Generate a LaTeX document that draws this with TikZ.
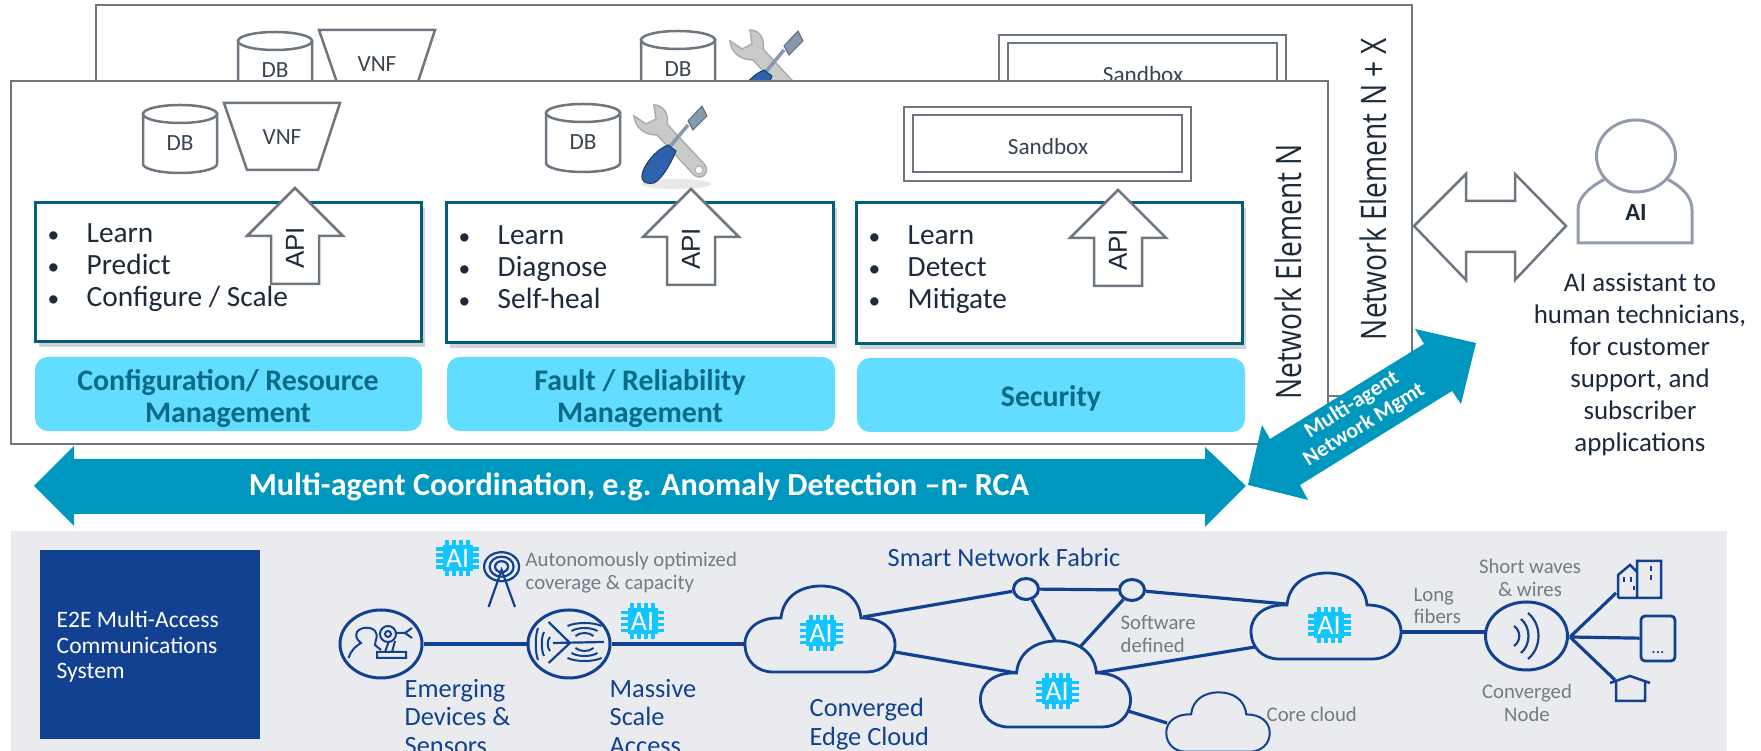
\documentclass[tikz,border=0pt]{standalone}
\usepackage{fontspec}
\setmainfont{Carlito}
\newfontfamily\widefont{Open Sans}
\newfontfamily\apifont{Liberation Sans}
\usetikzlibrary{shapes.geometric, shadows, positioning}
\definecolor{outline}{HTML}{6E7680}
\definecolor{tealedge}{HTML}{005F7A}
\definecolor{barfill}{HTML}{62DDFF}
\definecolor{bartext}{HTML}{0A6A88}
\definecolor{bigarrow}{HTML}{0097BE}
\definecolor{nokiablue}{HTML}{124191}
\definecolor{bandgray}{HTML}{E9EBEF}
\definecolor{chipcyan}{HTML}{12C4FF}
\definecolor{softgray}{HTML}{737B85}
\definecolor{personblue}{HTML}{939CAD}
\definecolor{darktext}{HTML}{1C2A3A}
\definecolor{labeltext}{HTML}{3A4450}
\definecolor{toolgray}{HTML}{C8CBC8}
\definecolor{toolblue}{HTML}{2F62AC}
\definecolor{bladeblue}{HTML}{8499AE}
\newcommand{\bul}[1]{\hspace*{0.3mm}\makebox[3.9mm][l]{\scalebox{0.8}{•}}#1}
\begin{document}
\begin{tikzpicture}[
      x=0.1mm, y=-0.1mm,
      elementbox/.style={draw=outline, fill=white, line width=0.28mm},
      grayshape/.style={draw=outline, fill=white, line width=0.25mm},
      smalltext/.style={font=\fontsize{6.6}{8}\selectfont, text=labeltext},
      taskbox/.style={draw=tealedge, fill=white, line width=0.3mm, drop shadow={shadow xshift=0.4mm, shadow yshift=-0.5mm, opacity=0.35}},
      tasklist/.style={font=\fontsize{8.35}{9.1}\selectfont, text=darktext, align=left, inner sep=0pt, anchor=west},
      barbox/.style={fill=barfill, rounded corners=1.3mm},
      bartitle/.style={font=\fontsize{8.5}{9.1}\selectfont\bfseries, text=bartext, align=center, inner sep=0pt},
      elementname/.style={font=\widefont\fontsize{10}{11}\selectfont, text=darktext, rotate=90, inner sep=0pt},
      link/.style={draw=nokiablue, line width=0.32mm},
      blue label/.style={font=\fontsize{7.5}{8.1}\selectfont, text=nokiablue, align=left, inner sep=0pt, anchor=west},
      gray label/.style={font=\fontsize{5.9}{6.5}\selectfont, text=softgray, align=left, inner sep=0pt, anchor=west},
      circlenode/.style={ellipse, draw=nokiablue, line width=0.3mm, minimum width=8.2mm, minimum height=6.8mm, inner sep=0pt},
      hubnode/.style={ellipse, draw=nokiablue, fill=bandgray, line width=0.3mm, minimum width=2.5mm, minimum height=2.1mm, inner sep=0pt},
      dbcan/.pic={
         \path[grayshape] (-37,-25) -- (-37,25) .. controls (-37,30) and (-20,34) .. (0,34) .. controls (20,34) and (37,30) .. (37,25) -- (37,-25) -- cycle;
         \path[grayshape] (0,-25) ellipse (37 and 9);
         \node[smalltext] (-dblabel) at (0,4) {DB};
      },
      vnfbox/.pic={
         \path[grayshape] (-58,-34) -- (58,-34) -- (36,33) -- (-35,33) -- cycle;
         \node[smalltext] (-vnflabel) at (0,0) {VNF};
      },
      sandboxframe/.pic={
         \path[grayshape] (-144,-37) rectangle (143,37);
         \path[grayshape] (-135,-29) rectangle (134,28);
         \node[smalltext] (-sandlabel) at (0,3) {Sandbox};
      },
      toolset/.pic={
         \fill[gray!18] (6,41) ellipse (35 and 5);
         \filldraw[fill=toolgray, draw=gray!65, line width=0.15mm] (-16,-38) .. controls (-6,-38) and (-1,-28) .. (-3,-19) -- (35,22) .. controls (40,30) and (31,38) .. (24,32) -- (-13,-8) .. controls (-25,-8) and (-35,-15) .. (-36,-27) -- (-24,-19) -- (-14,-24) -- cycle;
         \filldraw[fill=white, draw=gray!65, line width=0.1mm] (29,27) ellipse (4 and 4);
         \draw[bladeblue, line width=0.35mm] (18,-18) -- (-2,6);
         \filldraw[fill=bladeblue, draw=bladeblue!70!black, line width=0.1mm] (32,-37) -- (37,-27) -- (23,-13) -- (18,-22) -- cycle;
         \filldraw[fill=toolblue, draw=toolblue!60!black, line width=0.1mm] (-2,2) -- (6,8) .. controls (0,22) and (-8,36) .. (-16,40) .. controls (-27,42) and (-30,36) .. (-27,28) .. controls (-22,16) and (-12,6) .. (-2,2) -- cycle;
      },
      apiarrow/.pic={
         \path[grayshape] (0,0) -- (48,48) -- (24,48) -- (24,96) -- (-24,96) -- (-24,48) -- (-48,48) -- cycle;
         \node[font=\apifont\fontsize{7.4}{8}\selectfont, text=darktext, rotate=90, inner sep=0pt] (-apilabel) at (0,60) {API};
      },
      aichip/.pic={
         \fill[chipcyan] (-15,-13) rectangle (15,13);
         \foreach \p in {-10.5,-3.5,3.5,10.5} {
            \draw[chipcyan, line width=0.4mm] (\p,-18) -- (\p,18);
         }
         \foreach \p in {-9,-3,3,9} {
            \draw[chipcyan, line width=0.32mm] (-21.5,\p) -- (21.5,\p);
         }
         \node[font=\fontsize{8}{9}\selectfont, text=white, inner sep=0pt] (-ailabel) at (0,0) {AI};
      },
      netcloud/.pic={
         \path[draw=nokiablue, fill=bandgray] (-39,-11) .. controls (-37,-32) and (-20,-43) .. (1,-43) .. controls (22,-43) and (39,-32) .. (41,-11) .. controls (62,-11) and (75,0) .. (75,16) .. controls (75,32) and (62,43) .. (47,43) -- (-47,43) .. controls (-63,43) and (-75,32) .. (-75,15) .. controls (-75,-1) and (-60,-12) .. (-39,-11) -- cycle;
      }
   ]
   \clip (0,0) rectangle (1761,751);

   % Back network element
   \path[elementbox] (96,5) rectangle (1412,396);
   \pic at (275,66) {dbcan};
   \pic at (377,64) {vnfbox};
   \pic at (678,65) {dbcan};
   \pic at (766,68) {toolset};
   \pic at (1143,72) {sandboxframe};
   \node[elementname] (backname) at (1373,189) {\scalebox{0.8}[1]{Network Element N + X}};

   % Front network element
   \path[elementbox] (11,81) rectangle (1328,444);
   \pic at (180,139) {dbcan};
   \pic at (282,137) {vnfbox};
   \pic at (583,138) {dbcan};
   \pic at (670,143) {toolset};
   \pic at (1048,144) {sandboxframe};
   \node[elementname] (frontname) at (1288,272) {\scalebox{0.8}[1]{Network Element N}};

   % Task boxes and their lists
   \path[taskbox] (35,203) rectangle (421,342);
   \path[taskbox] (446,203) rectangle (833,343);
   \path[taskbox] (856,203) rectangle (1242,344);
   \node[tasklist] (listA) at (44,268) {\bul{Learn}\\ \bul{Predict}\\ \bul{Configure / Scale}};
   \node[tasklist] (listB) at (455,267) {\bul{Learn}\\ \bul{Diagnose}\\ \bul{Self-heal}};
   \node[tasklist] (listC) at (865,270) {\bul{Learn}\\ \bul{Detect}\\ \bul{Mitigate}};
   \pic at (295,188) {apiarrow};
   \pic at (691,189) {apiarrow};
   \pic at (1118,190) {apiarrow};

   % Management bars
   \path[barbox] (35,357) rectangle (422,431);
   \path[barbox] (447,357) rectangle (835,431);
   \path[barbox] (857,358) rectangle (1245,432);
   \node[bartitle] (barA) at (228,399) {Configuration/ Resource\\Management};
   \node[bartitle] (barB) at (640,399) {Fault / Reliability\\Management};
   \node[bartitle] (barC) at (1051,398) {Security};

   % Coordination arrows
   \fill[bigarrow] (34,486) -- (74,446) -- (74,459) -- (1205,459) -- (1205,447) -- (1246,486) -- (1205,527) -- (1205,514) -- (74,514) -- (74,526) -- cycle;
   \node[font=\fontsize{9.14}{10}\selectfont\bfseries, text=white, inner sep=0pt] (coord) at (639,487) {Multi-agent Coordination, e.g. Anomaly Detection --n- RCA};
   \fill[bigarrow] (1248,485) -- (1262,425) -- (1270,439) -- (1424,344) -- (1415,329) -- (1476,343) -- (1461,404) -- (1452,391) -- (1300,485) -- (1308,500) -- cycle;
   \node[font=\fontsize{6.2}{6.6}\selectfont\bfseries, text=white, align=center, rotate=32, inner sep=0pt] (mgmt) at (1358,415) {Multi-agent\\Network Mgmt};

   % AI assistant
   \path[grayshape] (1414,226) -- (1466,174) -- (1466,201) -- (1515,201) -- (1515,174) -- (1566,226) -- (1515,280) -- (1515,252) -- (1466,252) -- (1466,280) -- cycle;
   \path[draw=personblue, fill=white, line width=0.3mm] (1578,243) -- (1578,210) .. controls (1578,198) and (1588,188) .. (1605,179) -- (1667,179) .. controls (1684,188) and (1692,198) .. (1692,210) -- (1692,243) -- cycle;
   \node[ellipse, draw=personblue, fill=white, line width=0.3mm, minimum width=7.9mm, minimum height=7.2mm, inner sep=0pt] (aihead) at (1636,156) {};
   \node[font=\fontsize{7}{8}\selectfont\bfseries, text=darktext, inner sep=0pt] (ailabel) at (1636,213) {AI};
   \node[font=\fontsize{7.65}{9.1}\selectfont, text=darktext, align=center, inner sep=0pt] (aitext) at (1640,364) {AI assistant to\\human technicians,\\for customer\\support, and\\subscriber\\applications};

   % Communications band
   \fill[bandgray] (11,531) rectangle (1727,751);
   \node[fill=nokiablue, minimum width=22mm, minimum height=18.9mm, inner sep=0pt] (system) at (150,644.5) {};
   \node[font=\fontsize{6.7}{7.2}\selectfont, text=white, align=left, inner sep=0pt, anchor=west] (systemtext) at (56,647) {E2E Multi-Access\\Communications\\System};

   % Nodes of the fabric
   \node[circlenode] (devices) at (381,644) {};
   \node[circlenode] (massive) at (569,644) {};
   \node[hubnode] (hubA) at (1026,589) {};
   \node[hubnode] (hubB) at (1132,590) {};
   \node[circlenode] (conv) at (1526.5,636) {};
   \node[draw=nokiablue, line width=0.28mm, rounded corners=0.4mm, minimum width=3.4mm, minimum height=4.5mm, inner sep=0pt] (phone) at (1658,638.5) {};
   \coordinate (edgeW) at (745,644);
   \coordinate (edgeNE) at (863,617);
   \coordinate (edgeE) at (895,652);
   \coordinate (midNW) at (1016,673);
   \coordinate (midN) at (1056,642);
   \coordinate (midNE) at (1080,647);
   \coordinate (midE) at (1096,673);
   \coordinate (midSE) at (1128,711);
   \coordinate (coreW) at (1167,723);
   \coordinate (farNW) at (1286,604);
   \coordinate (farW) at (1255,647);
   \coordinate (farE) at (1401,632);
   \coordinate (convW) at (1485,632);
   \coordinate (fan) at (1570,637);
   \coordinate (bldgport) at (1616,593);
   \coordinate (houseport) at (1615,680);

   % Connectors
   \draw[link] (devices) -- (massive);
   \draw[link] (massive) -- (edgeW);
   \draw[link] (edgeNE) -- (hubA);
   \draw[link] (edgeE) -- (midNW);
   \draw[link] (hubA) -- (hubB);
   \draw[link] (hubA) -- (midN);
   \draw[link] (hubB) -- (midNE);
   \draw[link] (hubB) -- (farNW);
   \draw[link] (midE) -- (farW);
   \draw[link] (midSE) -- (coreW);
   \draw[link] (farE) -- (convW);
   \draw[link] (fan) -- (bldgport);
   \draw[link] (fan) -- (phone);
   \draw[link] (fan) -- (houseport);

   % Clouds and chips
   \pic[line width=0.28mm] at (820,629) {netcloud};
   \pic[line width=0.28mm] at (1055.5,684) {netcloud};
   \pic[line width=0.28mm] at (1326,616) {netcloud};
   \pic[xscale=0.69, yscale=0.69, line width=0.2mm] at (1218,722) {netcloud};
   \pic at (457.6,558) {aichip};
   \pic at (642.6,621.5) {aichip};
   \pic at (821,633.5) {aichip};
   \pic at (1329,625) {aichip};
   \pic at (1057,691.5) {aichip};

   % Icons
   \draw[nokiablue, line width=0.2mm] (348.6,658) .. controls (351,650) and (356,646) .. (361,643) .. controls (357,640) and (355,636) .. (357,632) .. controls (360,627) and (371,626) .. (375,631) .. controls (379,636) and (375,640) .. (375,645) -- (381,650);
   \draw[nokiablue, line width=0.2mm] (377,652) rectangle (406,658) (385,652) -- (389,641) (395,641) -- (392,652);
   \draw[nokiablue, line width=0.2mm] (388,634) ellipse (8 and 8) (388,634) ellipse (3 and 3) (396,633) -- (405,633) (405,633) -- (412,628) (405,633) -- (412,638);
   \draw[nokiablue, line width=0.22mm] (548.6,622) -- (570,643) -- (548.6,663) (553,643) -- (604,642);
   \foreach \yy/\wd in {622/17,627/13,632/9} {
      \draw[nokiablue, line width=0.2mm] (584.5-\wd,\yy+4) .. controls (584.5-\wd/2,\yy) and (584.5+\wd/2,\yy) .. (584.5+\wd,\yy+4);
   }
   \foreach \yy/\wd in {662/17,657/13,652/9} {
      \draw[nokiablue, line width=0.2mm] (584.5-\wd,\yy-4) .. controls (584.5-\wd/2,\yy) and (584.5+\wd/2,\yy) .. (584.5+\wd,\yy-4);
   }
   \foreach \xx/\ht in {535/16,541/12,547/7} {
      \draw[nokiablue, line width=0.2mm] (\xx+3,644-\ht) .. controls (\xx,644-\ht/2) and (\xx,644+\ht/2) .. (\xx+3,644+\ht);
   }
   \draw[nokiablue, line width=0.22mm] (488.6,607) -- (501.6,570) -- (515,607);
   \draw[nokiablue, line width=0.22mm] (501.6,566.7) ellipse (17.5 and 14.5) (501.6,566.7) ellipse (12 and 10) (501.6,566.7) ellipse (6.5 and 5.5);
   \foreach \xx/\ht/\bg in {1514/10/7,1521/17/10,1528/23/14} {
      \draw[nokiablue, line width=0.22mm] (\xx,636-\ht) .. controls (\xx+\bg,636-\ht/2) and (\xx+\bg,636+\ht/2) .. (\xx,636+\ht);
   }
   \draw[nokiablue, line width=0.25mm] (1618,598) -- (1618,575) -- (1630,565) -- (1637,572) (1637,598) -- (1637,561) -- (1661,561) -- (1661,598) -- (1618,598);
   \draw[nokiablue, line width=0.25mm] (1624,577) -- (1624,582) (1631,577) -- (1631,582) (1634,586) -- (1634,590) (1651,566) -- (1651,571) (1651,575) -- (1651,580);
   \draw[nokiablue, line width=0.25mm] (1610,683) -- (1630,676) -- (1650,683) (1616,681) -- (1616,701) -- (1645,701) -- (1645,681);
   \node[font=\fontsize{5}{6}\selectfont, text=nokiablue, inner sep=0pt] (phonedots) at (1658,653) {...};

   % Labels of the fabric
   \node[blue label] (lblDevices) at (404,717) {Emerging\\Devices \&\\Sensors};
   \node[blue label] (lblMassive) at (609,717) {Massive\\Scale\\Access};
   \node[blue label] (lblEdge) at (809,724) {Converged\\Edge Cloud};
   \node[font=\fontsize{7.5}{8}\selectfont, text=nokiablue, inner sep=0pt, anchor=west] (lblFabric) at (887,557) {Smart Network Fabric};
   \node[gray label] (lblCoverage) at (525,573) {Autonomously optimized\\coverage \& capacity};
   \node[gray label] (lblSoftware) at (1120,634) {Software\\defined};
   \node[gray label] (lblFibers) at (1413,606) {Long\\fibers};
   \node[gray label, align=center, anchor=center] (lblWaves) at (1530,578) {Short waves\\\& wires};
   \node[gray label, align=center, anchor=center] (lblConv) at (1527,703) {Converged\\Node};
   \node[gray label] (lblCore) at (1266,714) {Core cloud};
\end{tikzpicture}
\end{document}
